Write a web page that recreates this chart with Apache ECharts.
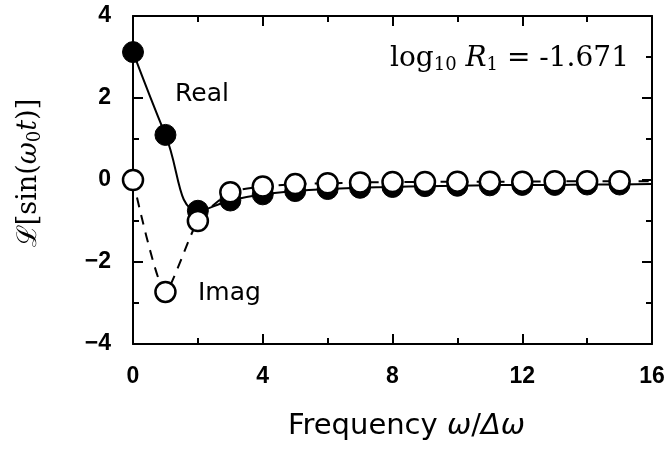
<!DOCTYPE html>
<html>
<head>
<meta charset="utf-8">
<script src="https://cdn.jsdelivr.net/npm/echarts@6/dist/echarts.min.js"></script>
<style>
  html, body { margin: 0; padding: 0; background: #fff; }
  #chart { width: 671px; height: 449px; }
</style>
</head>
<body>
<div id="chart"></div>
<script>
// Harmonic index (ω/Δω) of each sampled component
var freq = [0, 1, 2, 3, 4, 5, 6, 7, 8, 9, 10, 11, 12, 13, 14, 15];
// Real part of the transform (filled markers, solid curve)
var realVals = [3.12, 1.1, -0.75, -0.5, -0.35, -0.27, -0.22, -0.19, -0.17, -0.15, -0.14, -0.13, -0.12, -0.12, -0.11, -0.11];
// Imaginary part (open markers, dashed curve)
var imagVals = [0.0, -2.73, -1.0, -0.3, -0.16, -0.1, -0.08, -0.06, -0.05, -0.05, -0.04, -0.04, -0.04, -0.03, -0.03, -0.03];
// Curve continuation to the right edge of the axis
var curveEndX = 16;
var realEnd = -0.1;
var imagEnd = -0.03;

var xTicks = [0, 4, 8, 12, 16];
var yTicks = [-4, -2, 0, 2, 4];

function pairs(xs, ys) {
  return xs.map(function (x, i) { return [x, ys[i]]; });
}
var realPts = pairs(freq, realVals);
var imagPts = pairs(freq, imagVals);
var realCurve = realPts.concat([[curveEndX, realEnd]]);
var imagCurve = imagPts.concat([[curveEndX, imagEnd]]);

var tickFont = { color: '#000', fontFamily: '"Liberation Sans", sans-serif', fontWeight: 'bold', fontSize: 23 };

function axisLine() {
  return { show: true, onZero: false, lineStyle: { color: '#000', width: 2 } };
}
function ticks() {
  return { show: true, inside: true, length: 10, lineStyle: { color: '#000', width: 2 } };
}
function minor() {
  return { show: true, splitNumber: 2, length: 6, lineStyle: { color: '#000', width: 2 } };
}

var xMain = {
  type: 'value', position: 'bottom', min: 0, max: 16, interval: 4,
  axisLine: axisLine(), axisTick: ticks(), minorTick: minor(),
  splitLine: { show: false }, minorSplitLine: { show: false },
  axisLabel: Object.assign({ margin: 21, formatter: function (v) { return xTicks.indexOf(v) >= 0 ? String(v) : ''; } }, tickFont),
  name: '{t|Frequency }{i|\u03c9}{t|/}{i|\u0394\u03c9}',
  nameLocation: 'middle', nameGap: 68,
  nameTextStyle: {
    padding: [0, 0, 0, 28],
    rich: {
      t: { fontFamily: 'DejaVu Sans', fontSize: 29, color: '#000' },
      i: { fontFamily: 'DejaVu Sans', fontStyle: 'italic', fontSize: 29, color: '#000' }
    }
  }
};
var xTop = {
  type: 'value', position: 'top', min: 0, max: 16, interval: 4,
  axisLine: axisLine(), axisTick: ticks(), minorTick: minor(),
  splitLine: { show: false }, minorSplitLine: { show: false }, axisLabel: { show: false }
};

var yMain = {
  type: 'value', position: 'left', min: -4, max: 4, interval: 2,
  axisLine: axisLine(), axisTick: ticks(), minorTick: minor(),
  splitLine: { show: false }, minorSplitLine: { show: false },
  axisLabel: Object.assign({ margin: 22, formatter: function (v) { return yTicks.indexOf(v) >= 0 ? String(v).replace('-', '\u2212') : ''; } }, tickFont)
};
var yRight = {
  type: 'value', position: 'right', min: -4, max: 4, interval: 2,
  axisLine: axisLine(), axisTick: ticks(), minorTick: minor(),
  splitLine: { show: false }, minorSplitLine: { show: false }, axisLabel: { show: false }
};

var chart = echarts.init(document.getElementById('chart'), null, { renderer: 'canvas' });
chart.setOption({
  backgroundColor: '#fff',
  animation: false,
  grid: { left: 133, top: 16, right: 19, bottom: 105, containLabel: false },
  xAxis: [xMain, xTop],
  yAxis: [yMain, yRight],
  graphic: [
    {
      // y-axis title, drawn rotated beside the left axis
      type: 'text', x: 29, y: 173, rotation: Math.PI / 2,
      style: {
        text: '{s|\u2112[sin(}{i|\u03c9}{sub|0}{i|t}{s|)]}',
        align: 'center', verticalAlign: 'middle',
        rich: {
          s: { fontFamily: 'DejaVu Serif', fontSize: 27, fill: '#000' },
          i: { fontFamily: 'DejaVu Serif', fontStyle: 'italic', fontSize: 27, fill: '#000' },
          sub: { fontFamily: 'DejaVu Serif', fontSize: 18, fill: '#000', padding: [12, 0, 0, 0] }
        }
      }
    },
    {
      type: 'text', left: 390, top: 45,
      style: {
        text: '{r|log}{sub|10}{ri| R}{sub|1}{r| = -1.671}',
        rich: {
          r: { fontFamily: 'DejaVu Serif', fontSize: 28, fill: '#000' },
          ri: { fontFamily: 'DejaVu Serif', fontStyle: 'italic', fontSize: 28, fill: '#000' },
          sub: { fontFamily: 'DejaVu Serif', fontSize: 18, fill: '#000', padding: [13, 0, 0, 0] }
        }
      }
    },
    { type: 'text', left: 175, top: 82, style: { text: 'Real', fontFamily: 'DejaVu Sans', fontSize: 25, fill: '#000' } },
    { type: 'text', left: 198, top: 281, style: { text: 'Imag', fontFamily: 'DejaVu Sans', fontSize: 25, fill: '#000' } }
  ],
  series: [
    {
      name: 'Real curve', type: 'line', data: realCurve, smooth: 0.45, showSymbol: false,
      lineStyle: { color: '#000', width: 2 }, z: 2
    },
    {
      name: 'Imag curve', type: 'line', data: imagCurve, smooth: 0.2, showSymbol: false,
      lineStyle: { color: '#000', width: 2, type: [10, 8] }, z: 2
    },
    {
      name: 'Real', type: 'scatter', data: realPts, symbol: 'circle', symbolSize: 21,
      itemStyle: { color: '#000', borderColor: '#000', borderWidth: 1, opacity: 1 }, z: 3
    },
    {
      name: 'Imag', type: 'scatter', data: imagPts, symbol: 'circle', symbolSize: 20,
      itemStyle: { color: '#fff', borderColor: '#000', borderWidth: 2.5, opacity: 1 }, z: 4
    }
  ]
});
</script>
</body>
</html>
